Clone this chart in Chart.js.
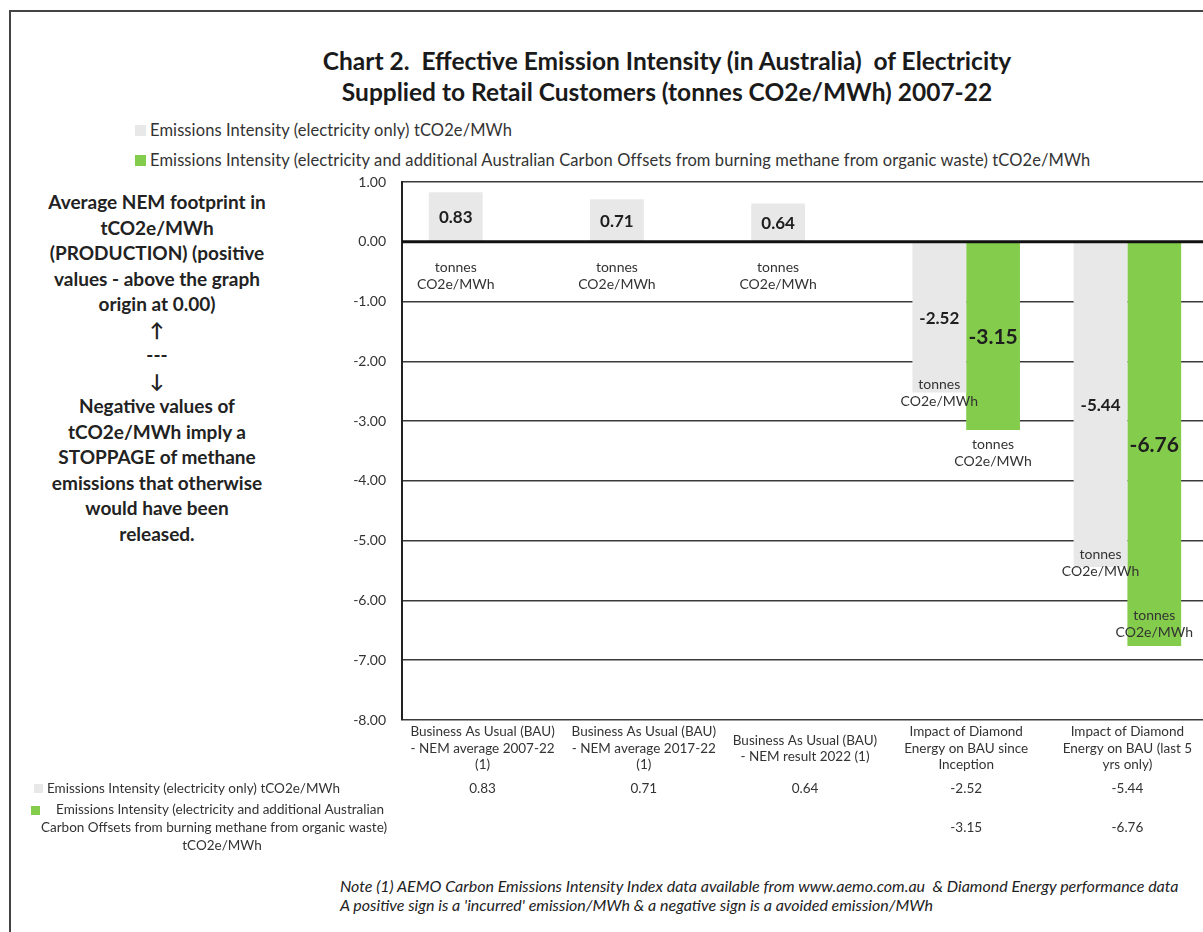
<!DOCTYPE html>
<html>
<head>
<meta charset="utf-8">
<script src="https://cdn.jsdelivr.net/npm/chart.js@4"></script>
<style>
  body { margin: 0; overflow: hidden; background: #fff; font-family: Lato, sans-serif; color: #2b2b2b; }
  #frame { position: absolute; left: 9px; top: 10px; width: 1400px; height: 1000px; border-top: 2px solid #444; border-left: 2px solid #444; }
  #title { position: absolute; left: 0; top: 45px; width: 1334px; text-align: center; font-weight: bold; font-size: 24.5px; line-height: 31px; color: #1a1a1a; }
  .leg { position: absolute; left: 135px; font-size: 16.5px; line-height: 18px; color: #333; letter-spacing: 0.1px; white-space: nowrap; }
  .leg i { display: inline-block; width: 11px; height: 11px; margin-right: 4px; vertical-align: 0px; }
  #side { position: absolute; left: 0; top: 189px; width: 314px; text-align: center; font-weight: bold; font-size: 19px; line-height: 25.5px; color: #222; }
  #note { position: absolute; left: 340px; top: 876px; font-style: italic; font-size: 16px; line-height: 19px; color: #222; white-space: nowrap; }
  #c { position: absolute; left: 0; top: 0; }
</style>
</head>
<body>
<div id="frame"></div>
<div id="title">Chart 2.&nbsp; Effective Emission Intensity (in Australia)&nbsp; of Electricity<br>Supplied to Retail Customers (tonnes CO2e/MWh) 2007-22</div>
<div class="leg" style="top:121px"><i style="background:#e8e8e8"></i>Emissions Intensity (electricity only) tCO2e/MWh</div>
<div class="leg" style="top:151px"><i style="background:#84cc4c"></i>Emissions Intensity (electricity and additional Australian Carbon Offsets from burning methane from organic waste) tCO2e/MWh</div>
<div id="side">Average NEM footprint in<br>tCO2e/MWh<br>(PRODUCTION) (positive<br>values - above the graph<br>origin at 0.00)<br>↑<br>---<br>↓<br>Negative values of<br>tCO2e/MWh imply a<br>STOPPAGE of methane<br>emissions that otherwise<br>would have been<br>released.</div>
<div id="note">Note (1) AEMO Carbon Emissions Intensity Index data available from www.aemo.com.au&nbsp; &amp; Diamond Energy performance data<br>A positive sign is a 'incurred' emission/MWh &amp; a negative sign is a avoided emission/MWh</div>
<canvas id="c" width="1240" height="932" style="width:1240px;height:932px"></canvas>
<script>
const categories = [
  ['Business As Usual (BAU)', '- NEM average 2007-22', '(1)'],
  ['Business As Usual (BAU)', '- NEM average 2017-22', '(1)'],
  ['Business As Usual (BAU)', '- NEM result 2022 (1)'],
  ['Impact of Diamond', 'Energy on BAU since', 'Inception'],
  ['Impact of Diamond', 'Energy on BAU (last 5', 'yrs only)']
];
const electricityOnly = [0.83, 0.71, 0.64, -2.52, -5.44];
const withOffsets = [null, null, null, -3.15, -6.76];
const seriesNames = [
  'Emissions Intensity (electricity only) tCO2e/MWh',
  'Emissions Intensity (electricity and additional Australian Carbon Offsets from burning methane from organic waste) tCO2e/MWh'
];
const yMin = -8, yMax = 1, yStep = 1;

const GRAY = '#e8e8e8';
const GREEN = '#84cc4c';
const FONT = 'Lato, sans-serif';

// vertical shift of the "tonnes CO2e/MWh" note, relative to the bar end
const unitShift = [[34, 34, 34, 0, -4], [0, 0, 0, 22, -22]];

const barLabels = {
  id: 'barLabels',
  afterDatasetsDraw(chart) {
    const ctx = chart.ctx;
    const area = chart.chartArea;
    const y0 = chart.scales.y.getPixelForValue(0);
    ctx.save();
    ctx.strokeStyle = '#111';
    ctx.lineWidth = 3;
    ctx.beginPath();
    ctx.moveTo(area.left, y0);
    ctx.lineTo(area.right, y0);
    ctx.stroke();

    ctx.textAlign = 'center';
    ctx.textBaseline = 'middle';
    chart.data.datasets.forEach((ds, di) => {
      chart.getDatasetMeta(di).data.forEach((bar, i) => {
        const v = ds.data[i];
        if (v == null) return;
        ctx.fillStyle = '#1e1e1e';
        ctx.font = (di === 0 ? 'bold 17px ' : 'bold 21px ') + FONT;
        ctx.fillText(v.toFixed(2), bar.x, (bar.y + bar.base) / 2 + 1);
        const uy = v > 0 ? bar.base + unitShift[di][i] : bar.y + unitShift[di][i];
        ctx.fillStyle = '#333';
        ctx.font = '14px ' + FONT;
        ctx.fillText('tonnes', bar.x, uy - 8);
        ctx.fillText('CO2e/MWh', bar.x, uy + 9);
      });
    });
    ctx.restore();
  }
};

const dataTable = {
  id: 'dataTable',
  afterDraw(chart) {
    const ctx = chart.ctx;
    const x = chart.scales.x;
    ctx.save();
    ctx.font = '13.5px ' + FONT;
    ctx.textBaseline = 'middle';

    ctx.fillStyle = GRAY;
    ctx.fillRect(34, 784, 9, 9);
    ctx.fillStyle = '#333';
    ctx.textAlign = 'left';
    ctx.fillText(seriesNames[0], 47, 789);

    ctx.fillStyle = GREEN;
    ctx.fillRect(31, 806, 9, 9);
    ctx.fillStyle = '#333';
    ctx.textAlign = 'center';
    ctx.fillText('Emissions Intensity (electricity and additional Australian', 220, 810);
    ctx.fillText('Carbon Offsets from burning methane from organic waste)', 214, 828);
    ctx.fillText('tCO2e/MWh', 222, 846);

    [electricityOnly, withOffsets].forEach((row, r) => {
      row.forEach((v, i) => {
        if (v == null) return;
        ctx.fillText(v.toFixed(2), x.getPixelForValue(i), r === 0 ? 789 : 828);
      });
    });
    ctx.restore();
  }
};

new Chart(document.getElementById('c'), {
  type: 'bar',
  data: {
    labels: categories,
    datasets: [
      { label: seriesNames[0], data: electricityOnly, backgroundColor: GRAY },
      { label: seriesNames[1], data: withOffsets, backgroundColor: GREEN }
    ]
  },
  options: {
    responsive: false,
    animation: false,
    layout: { padding: { left: 0, top: 182, right: 32, bottom: 152 } },
    datasets: { bar: { categoryPercentage: 0.667, barPercentage: 1.0 } },
    plugins: {
      legend: { display: false },
      title: { display: false },
      tooltip: { enabled: false }
    },
    scales: {
      x: {
        grid: { display: false },
        border: { display: false },
        ticks: {
          color: '#333',
          font: { family: FONT, size: 13.5, lineHeight: 1.22 },
          maxRotation: 0,
          autoSkip: false,
          padding: 4,
          crossAlign: 'center'
        },
        afterFit: (scale) => { scale.height = 60; }
      },
      y: {
        min: yMin,
        max: yMax,
        grid: { color: '#3a3a3a', lineWidth: 1.5, drawTicks: false },
        border: { display: true, color: '#222', width: 2 },
        ticks: {
          stepSize: yStep,
          padding: 16,
          color: '#333',
          font: { family: FONT, size: 14 },
          callback: (value) => value.toFixed(2)
        },
        afterFit: (scale) => { scale.width = 402; }
      }
    }
  },
  plugins: [barLabels, dataTable]
});
</script>
</body>
</html>
